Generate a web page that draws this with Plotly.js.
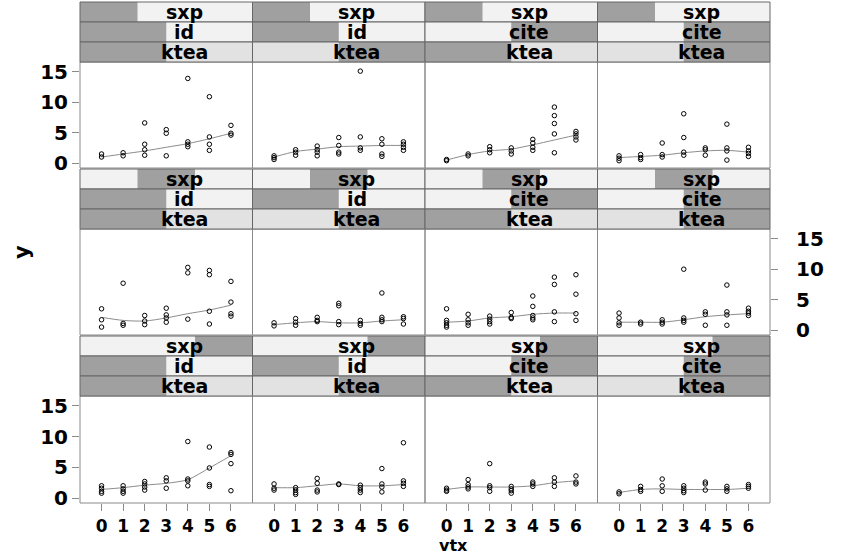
<!DOCTYPE html>
<html><head><meta charset="utf-8">
<script src="https://cdn.plot.ly/plotly-3.0.1.min.js"></script>
<style>html,body{margin:0;padding:0;background:#fff}</style>
</head><body><div id="chart" style="width:851px;height:559px"></div>
<script>
// ---- data ----
const xLevels = [0, 1, 2, 3, 4, 5, 6];
const xTickText = ["0", "1", "2", "3", "4", "5", "6"];
const yTickVals = [0, 5, 10, 15];
const yTickText = ["0", "5", "10", "15"];
const topStripText = "sxp";          // 3-level factor, one level per row
const topLevelOfRow = [0, 1, 2];
const midStripText = ["id", "id", "cite", "cite"];  // 2-level factor per column
const midLevelOfCol = [0, 0, 1, 1];
const botStripText = "ktea";          // 2-level factor per column
const botLevelOfCol = [0, 1, 0, 1];
const xTitle = "vtx";
const yTitle = "y";

// points at each x level, per panel (row r, column c)
const r1c1 = [[1.0,1.5],[1.2,1.7],[6.6,3.1,2.2,1.3],[5.5,4.9,1.2],[13.9,3.5,3.1,2.7],[10.9,4.3,3.1,2.1],[6.2,4.9,4.6]];
const r1c2 = [[1.2,0.9,0.6],[2.2,1.8,1.3],[2.8,2.2,1.8,1.2],[4.2,2.9,1.8,1.5],[15.1,4.3,2.5,2.1],[4.0,3.1,1.5,1.1],[3.5,3.1,2.6,2.1]];
const r1c3 = [[0.6,0.4],[1.5,1.2],[2.7,2.2,1.7],[2.5,2.0,1.5],[3.9,3.3,2.6,2.1],[9.2,7.8,6.5,4.8,1.7],[5.2,4.8,4.3,3.8]];
const r1c4 = [[1.2,0.8,0.4],[1.4,0.9,0.6],[3.3,1.4,1.0],[8.1,4.2,1.8,1.3],[2.5,2.2,1.3],[6.4,2.5,2.0,0.5],[2.6,2.0,1.6,1.1]];
const r2c1 = [[3.5,1.7,0.5],[7.7,1.1,0.8],[2.4,1.5,0.9],[3.6,2.5,2.0,1.3],[10.3,9.4,1.8],[9.8,9.1,3.1,1.0],[8.0,4.6,2.7,2.3]];
const r2c2 = [[1.2,0.7],[1.9,1.3,0.8],[2.1,1.6,1.4],[4.4,4.0,1.4,0.9],[1.6,1.1,0.8],[6.1,2.1,1.7,1.4],[2.2,1.9,1.0]];
const r2c3 = [[3.5,1.6,1.2,0.8,0.5],[2.6,1.7,1.2,0.8],[2.3,1.8,1.4,1.0],[2.9,2.1,1.9],[5.6,3.9,2.4,2.0,1.7],[8.7,7.5,3.0,1.4],[9.1,5.9,2.7,1.6]];
const r2c4 = [[2.8,2.0,1.2,0.8],[1.3,1.0],[1.7,1.3,1.0],[10.0,2.0,1.6,1.3],[3.0,2.6,0.8],[7.4,3.0,2.5,0.8],[3.6,3.1,2.8,2.4]];
const r3c1 = [[2.0,1.6,1.1,0.8],[2.0,1.5,1.1,0.8],[2.7,2.3,1.8,1.3],[3.3,2.8,1.6],[9.2,3.1,2.8,2.0],[8.3,4.9,2.2,1.9],[7.4,7.1,5.6,1.2]];
const r3c2 = [[2.3,1.6,1.3],[1.7,1.3,0.9,0.6],[3.2,2.4,1.3,1.0],[2.3,2.2],[2.1,1.7,1.3,0.9],[4.8,2.3,1.8,1.0],[9.0,2.8,2.4,1.9]];
const r3c3 = [[1.6,1.3,1.1],[3.0,2.2,1.8,1.5],[5.6,2.0,1.7,1.1],[1.9,1.5,1.2,0.8],[2.6,2.3,1.9],[3.3,2.6,1.9],[3.6,2.6,2.3]];
const r3c4 = [[1.0,0.7],[1.9,1.4,1.1],[3.1,2.0,1.1],[2.0,1.6,1.2,0.9],[2.6,2.3,1.3],[1.9,1.5,1.1],[2.2,1.9,1.6]];

// smooth (loess) curve values read at each x level
const r1c1Smooth = [1.0,1.5,2.0,2.6,3.2,4.0,4.9];
const r1c2Smooth = [1.0,1.9,2.3,2.7,2.8,2.9,2.9];
const r1c3Smooth = [0.5,1.4,2.0,2.3,3.0,3.8,4.6];
const r1c4Smooth = [0.9,1.1,1.3,1.7,2.0,2.1,1.8];
const r2c1Smooth = [2.1,1.6,1.5,2.0,2.7,3.3,4.1];
const r2c2Smooth = [0.9,1.2,1.4,1.2,1.2,1.5,1.7];
const r2c3Smooth = [1.3,1.5,2.0,2.2,2.6,2.8,2.8];
const r2c4Smooth = [1.3,1.3,1.3,1.7,2.2,2.5,2.7];
const r3c1Smooth = [1.4,1.7,2.1,2.4,3.0,4.9,6.9];
const r3c2Smooth = [1.7,1.7,2.0,2.3,2.0,2.0,2.2];
const r3c3Smooth = [1.4,1.8,1.8,1.8,2.0,2.5,2.8];
const r3c4Smooth = [0.9,1.4,1.5,1.4,1.4,1.4,1.6];

const panels = [[r1c1,r1c2,r1c3,r1c4],[r2c1,r2c2,r2c3,r2c4],[r3c1,r3c2,r3c3,r3c4]];
const smooths = [[r1c1Smooth,r1c2Smooth,r1c3Smooth,r1c4Smooth],[r2c1Smooth,r2c2Smooth,r2c3Smooth,r2c4Smooth],[r3c1Smooth,r3c2Smooth,r3c3Smooth,r3c4Smooth]];

// ---- layout geometry (pixels) ----
const W = 851, H = 559;
const colEdges = [80, 252.5, 425, 597.5, 770];
const rowPanels = [[62,168],[229,335],[396,503]];
const stripH = 20;
const px = v => v / W, py = v => 1 - v / H;

const DARK = "#a0a0a0", LIGHT = "#f2f2f2", LIGHT2 = "#e2e2e2", BORDER = "#666666", FRAME = "#8a8a8a";
const textFont = {family: "DejaVu Sans", size: 19, color: "#000", weight: 900};
const tickFont = {family: "DejaVu Sans", size: 17, color: "#000", weight: 900};

const traces = [];
const shapes = [];
const annotations = [];
const layout = {
  width: W, height: H, margin: {l:0, r:0, t:0, b:0},
  paper_bgcolor: "#fff", plot_bgcolor: "#fff", showlegend: false
};

for (let c = 0; c < 4; c++) {
  const xa = "xaxis" + (c === 0 ? "" : c + 1);
  layout[xa] = {
    domain: [px(colEdges[c]), px(colEdges[c+1])], anchor: "y3",
    range: [-1, 7], tickvals: xLevels, ticktext: xTickText,
    ticks: "outside", ticklen: 7, tickcolor: FRAME, showgrid: false, zeroline: false,
    showline: false, ticklabelstandoff: 1, tickfont: tickFont
  };
}
for (let r = 0; r < 3; r++) {
  const ya = "yaxis" + (r === 0 ? "" : r + 1);
  layout[ya] = {
    domain: [py(rowPanels[r][1]), py(rowPanels[r][0])],
    anchor: r === 1 ? "x4" : "x", side: r === 1 ? "right" : "left",
    range: [-0.8, 16.6], tickvals: yTickVals, ticktext: yTickText,
    ticks: "outside", ticklen: 7, tickcolor: FRAME, showgrid: false, zeroline: false,
    showline: false, ticklabelstandoff: r === 1 ? 14 : 0,
    tickfont: {family: "DejaVu Sans", size: 20, color: "#000", weight: 900}
  };
}

for (let r = 0; r < 3; r++) {
  for (let c = 0; c < 4; c++) {
    const xref = "x" + (c === 0 ? "" : c + 1);
    const yref = "y" + (r === 0 ? "" : r + 1);
    const data = panels[r][c];
    const xs = [], ys = [];
    data.forEach((vals, i) => vals.forEach(v => { xs.push(xLevels[i]); ys.push(v); }));
    traces.push({
      type: "scatter", mode: "lines", x: xLevels, y: smooths[r][c], xaxis: xref, yaxis: yref,
      line: {color: "#8c8c8c", width: 1, shape: "spline", smoothing: 0.8}, hoverinfo: "skip"
    });
    traces.push({
      type: "scatter", mode: "markers", x: xs, y: ys, xaxis: xref, yaxis: yref,
      marker: {symbol: "circle-open", size: 4.5, color: "#000", line: {width: 1}}
    });

    const x0 = colEdges[c], x1 = colEdges[c+1], w = x1 - x0;
    // panel frame
    shapes.push({type: "rect", xref: "paper", yref: "paper", x0: px(x0), x1: px(x1),
      y0: py(rowPanels[r][1]), y1: py(rowPanels[r][0]),
      fillcolor: "rgba(0,0,0,0)", line: {width: 1, color: FRAME}, layer: "above"});
    // strips
    const stripTop = rowPanels[r][0] - 3 * stripH;
    const specs = [
      {n: 3, lvl: topLevelOfRow[r], bg: LIGHT, text: topStripText},
      {n: 2, lvl: midLevelOfCol[c], bg: LIGHT, text: midStripText[c]},
      {n: 2, lvl: botLevelOfCol[c], bg: LIGHT2, text: botStripText}
    ];
    specs.forEach((s, k) => {
      const y0 = stripTop + k * stripH, y1 = y0 + stripH;
      shapes.push({type: "rect", xref: "paper", yref: "paper", x0: px(x0), x1: px(x1), y0: py(y1), y1: py(y0),
        fillcolor: s.bg, line: {width: 0}, layer: "above"});
      shapes.push({type: "rect", xref: "paper", yref: "paper",
        x0: px(x0 + s.lvl * w / s.n), x1: px(x0 + (s.lvl + 1) * w / s.n), y0: py(y1), y1: py(y0),
        fillcolor: DARK, line: {width: 0}, layer: "above"});
      shapes.push({type: "rect", xref: "paper", yref: "paper", x0: px(x0), x1: px(x1), y0: py(y1), y1: py(y0),
        fillcolor: "rgba(0,0,0,0)", line: {width: 1, color: BORDER}, layer: "above"});
      annotations.push({xref: "paper", yref: "paper", x: px((x0 + x1) / 2 + 18), y: py((y0 + y1) / 2),
        text: s.text, showarrow: false, xanchor: "center", yanchor: "middle", font: textFont});
    });
  }
}

annotations.push({xref: "paper", yref: "paper", x: px(453), y: py(545), text: xTitle, showarrow: false,
  xanchor: "center", yanchor: "middle", font: {family: "DejaVu Sans", size: 16, color: "#000", weight: 900}});
annotations.push({xref: "paper", yref: "paper", x: px(22), y: py(252), text: yTitle, showarrow: false, textangle: -90,
  xanchor: "center", yanchor: "middle", font: {family: "DejaVu Sans", size: 21, color: "#000", weight: 900}});

layout.shapes = shapes;
layout.annotations = annotations;
Plotly.newPlot("chart", traces, layout, {staticPlot: true, displayModeBar: false});
</script></body></html>
